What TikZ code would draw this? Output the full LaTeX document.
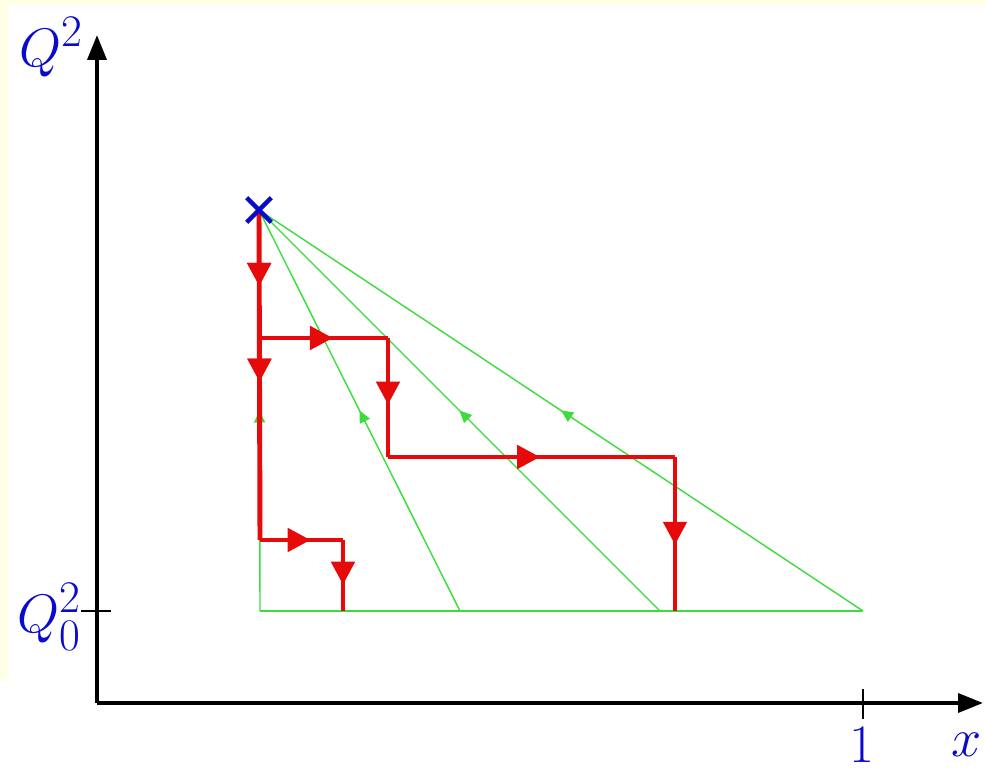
\documentclass[tikz,border=0pt]{standalone}
\usepackage{amsmath,amssymb}
\usepackage{graphicx}
\usepackage{xcolor}
\definecolor{paper}{HTML}{FFFFE6}
\definecolor{pathred}{HTML}{E60A0A}
\definecolor{linegreen}{HTML}{3CDC3C}
\definecolor{labelblue}{HTML}{0A0ACC}
\usepackage{tikz}
\usetikzlibrary{arrows.meta,decorations.markings}
\newcommand{\biglabel}[1]{\scalebox{1.24}{$#1$}}
\tikzset{
    axis/.style={
        line width=2.1pt,
        black,
        -{Triangle[length=0.5cm,width=0.38cm]},
    },
    tick/.style={
        line width=1.6pt,
        black,
    },
    evol/.style={
        line width=2.8pt,
        pathred,
    },
    ladder/.style={
        line width=0.8pt,
        linegreen,
    },
    redmark/.style={
        decoration={markings,
            mark=at position #1 with {\arrow{Triangle[length=0.46cm,width=0.46cm]}}},
        postaction=decorate,
    },
    greenmark/.style={
        decoration={markings,
            mark=at position #1 with {\arrow{Triangle[length=0.24cm,width=0.22cm]}}},
        postaction=decorate,
    },
    axlabel/.style={
        text=labelblue,
        font=\fontsize{24.88}{30}\selectfont,
        inner sep=0pt,
    },
}

\begin{document}
\begin{tikzpicture}[x=0.02cm,y=-0.02cm]
    \useasboundingbox (0,0) rectangle (985,770);
    \fill[white] (0,0) rectangle (985,770);
    \fill[paper] (0,0) rectangle (985,5);
    \fill[paper] (0,0) rectangle (8,680);

    % axes
    \coordinate (origin) at (97,703);
    \coordinate (ytip) at (97,35);
    \coordinate (xtip) at (983,703);
    \draw[axis] (origin) -- (ytip);
    \draw[axis] (origin) -- (xtip);
    \coordinate (qtickL) at (81,611);
    \coordinate (qtickR) at (111,611);
    \coordinate (xtickT) at (863,689);
    \coordinate (xtickB) at (863,719);
    \draw[tick] (qtickL) -- (qtickR);
    \draw[tick] (xtickT) -- (xtickB);

    \node[axlabel] (qlabel) at (51,47) {\biglabel{Q^2}};
    \node[axlabel] (q0label) at (49,617) {\biglabel{Q_0^2}};
    \node[axlabel] (onelabel) at (862,745) {\biglabel{1}};
    \node[axlabel] (xlabel) at (967,745) {\biglabel{x}};

    % green triangle and fan
    \coordinate (top) at (259,210);
    \coordinate (b0) at (260,611);
    \coordinate (b1) at (460,611);
    \coordinate (b2) at (660,611);
    \coordinate (b3) at (863,611);
    \draw[ladder] (b0) -- (b3);
    \foreach \b in {b0,b1,b2,b3}
        \draw[ladder, greenmark=0.5] (\b) -- (top);

    % red evolution paths
    \coordinate (r1) at (260,338);
    \coordinate (r2) at (388,338);
    \coordinate (r3) at (388,457);
    \coordinate (r4) at (675,457);
    \coordinate (r5) at (675,611);
    \coordinate (r6) at (260,540);
    \coordinate (r7) at (343,540);
    \coordinate (r8) at (343,611);
    \draw[evol, redmark=0.23, redmark=0.52] (top) -- (r6);
    \draw[evol, redmark=0.57] (r1) -- (r2);
    \draw[evol, redmark=0.56] (r2) -- (r3);
    \draw[evol, redmark=0.53] (r3) -- (r4);
    \draw[evol, redmark=0.57] (r4) -- (r5);
    \draw[evol, redmark=0.61] (r6) -- (r7);
    \draw[evol, redmark=0.63] (r7) -- (r8);

    % start point
    \node[inner sep=0pt, minimum size=0.48cm] (start) at (top) {};
    \draw[labelblue, line width=2.6pt] (start.north west) -- (start.south east);
    \draw[labelblue, line width=2.6pt] (start.north east) -- (start.south west);
\end{tikzpicture}
\end{document}
